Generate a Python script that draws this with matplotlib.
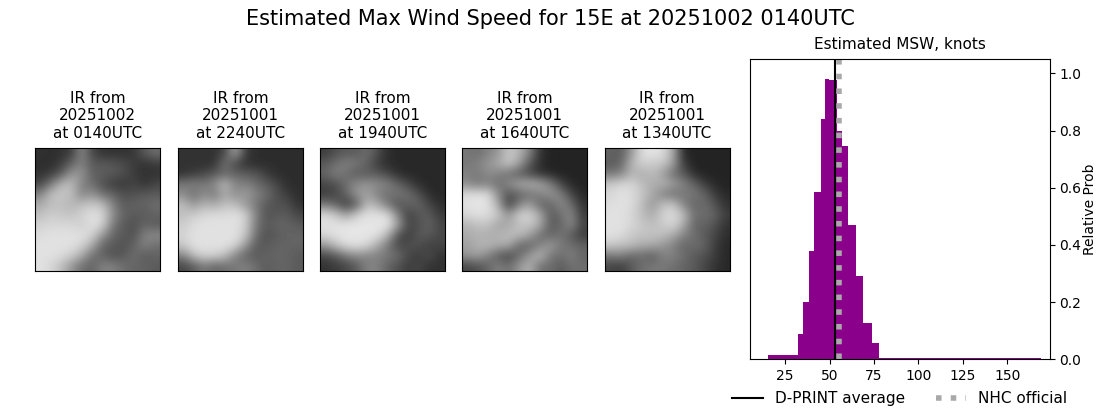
import numpy as np
import matplotlib
matplotlib.use("Agg")
import matplotlib.pyplot as plt

# gray levels on a coarse grid
ir_0140 = [
    [50, 45, 50, 60, 140, 70, 50, 50, 50, 55, 90, 110],
    [45, 45, 60, 100, 130, 90, 90, 85, 75, 60, 50, 60],
    [50, 60, 90, 150, 150, 95, 95, 90, 80, 60, 50, 50],
    [70, 120, 180, 190, 130, 110, 80, 60, 55, 70, 50, 70],
    [130, 190, 200, 190, 130, 150, 110, 100, 80, 80, 90, 90],
    [170, 190, 190, 180, 190, 200, 190, 130, 90, 100, 100, 110],
    [190, 205, 200, 195, 210, 225, 215, 140, 100, 90, 90, 100],
    [210, 215, 215, 215, 205, 225, 210, 120, 90, 80, 100, 90],
    [220, 225, 225, 225, 225, 210, 150, 100, 90, 80, 130, 140],
    [225, 225, 225, 225, 210, 170, 100, 90, 80, 100, 130, 110],
    [225, 225, 220, 205, 170, 110, 100, 80, 90, 110, 90, 100],
    [225, 215, 190, 150, 110, 100, 130, 130, 110, 100, 100, 90],
]
ir_2240 = [
    [50, 50, 50, 50, 70, 170, 60, 45, 45, 45, 45, 45],
    [50, 50, 50, 50, 120, 70, 50, 45, 45, 45, 45, 45],
    [50, 60, 70, 90, 100, 100, 90, 85, 60, 45, 45, 45],
    [120, 130, 120, 140, 190, 130, 130, 110, 90, 70, 45, 45],
    [140, 110, 140, 120, 170, 140, 160, 130, 110, 80, 60, 45],
    [190, 150, 180, 170, 190, 190, 150, 120, 90, 80, 80, 50],
    [190, 205, 215, 220, 220, 225, 210, 130, 80, 90, 90, 70],
    [205, 220, 225, 225, 225, 225, 205, 120, 90, 100, 100, 90],
    [210, 225, 225, 225, 225, 225, 200, 110, 80, 90, 100, 100],
    [200, 225, 225, 225, 225, 215, 150, 90, 90, 100, 100, 100],
    [130, 190, 210, 210, 190, 130, 100, 90, 100, 100, 100, 90],
    [70, 90, 120, 100, 110, 120, 130, 110, 90, 100, 100, 90],
]
ir_1940 = [
    [60, 80, 90, 90, 110, 80, 45, 40, 40, 40, 40, 40],
    [90, 110, 130, 120, 100, 60, 45, 40, 40, 40, 40, 40],
    [100, 130, 110, 90, 90, 90, 70, 45, 40, 40, 40, 40],
    [70, 80, 110, 140, 150, 140, 130, 100, 70, 45, 40, 40],
    [60, 70, 100, 150, 160, 130, 110, 120, 110, 80, 45, 40],
    [120, 100, 60, 90, 190, 170, 120, 80, 100, 100, 70, 45],
    [220, 200, 160, 205, 225, 225, 220, 130, 60, 90, 90, 60],
    [225, 225, 230, 230, 230, 230, 230, 160, 70, 80, 100, 70],
    [215, 225, 230, 230, 230, 225, 180, 80, 60, 90, 90, 70],
    [150, 190, 220, 225, 215, 170, 120, 70, 80, 80, 60, 70],
    [70, 90, 120, 140, 130, 130, 120, 110, 70, 60, 80, 50],
    [50, 60, 70, 90, 130, 130, 100, 80, 60, 70, 50, 50],
]
ir_1640 = [
    [120, 110, 130, 150, 200, 180, 130, 50, 35, 35, 35, 35],
    [120, 130, 150, 170, 200, 160, 90, 45, 35, 35, 35, 35],
    [130, 120, 140, 130, 110, 90, 70, 50, 40, 35, 35, 35],
    [140, 120, 130, 110, 140, 170, 180, 170, 130, 70, 40, 35],
    [220, 225, 220, 140, 80, 100, 110, 130, 150, 130, 70, 40],
    [225, 230, 225, 170, 60, 130, 160, 100, 100, 140, 110, 50],
    [215, 225, 220, 200, 150, 210, 210, 170, 90, 110, 140, 60],
    [180, 190, 195, 160, 170, 190, 200, 170, 90, 100, 140, 70],
    [170, 180, 170, 180, 190, 190, 160, 110, 100, 120, 90, 60],
    [160, 175, 185, 170, 170, 100, 100, 130, 160, 120, 110, 100],
    [150, 160, 130, 90, 70, 110, 150, 190, 120, 110, 130, 100],
    [70, 80, 100, 130, 110, 150, 180, 110, 110, 90, 110, 110],
]
ir_1340 = [
    [100, 90, 150, 220, 230, 220, 170, 40, 35, 35, 35, 35],
    [90, 100, 180, 210, 200, 200, 160, 60, 35, 35, 35, 35],
    [120, 130, 180, 170, 190, 160, 110, 90, 45, 35, 35, 35],
    [200, 215, 215, 190, 170, 180, 160, 130, 100, 60, 40, 35],
    [215, 225, 220, 200, 170, 130, 110, 120, 120, 100, 60, 40],
    [220, 225, 220, 190, 150, 190, 200, 130, 100, 110, 80, 50],
    [225, 225, 215, 190, 170, 210, 220, 190, 110, 110, 100, 60],
    [225, 225, 215, 200, 190, 200, 215, 170, 100, 100, 80, 50],
    [225, 220, 200, 195, 195, 190, 170, 130, 110, 90, 70, 45],
    [200, 190, 190, 170, 170, 150, 130, 100, 110, 100, 60, 40],
    [120, 130, 100, 110, 90, 130, 130, 110, 90, 80, 60, 40],
    [70, 60, 90, 110, 120, 120, 110, 100, 90, 70, 50, 40],
]
ir_images = [ir_0140, ir_2240, ir_1940, ir_1640, ir_1340]
ir_dates = ["20251002", "20251001", "20251001", "20251001", "20251001"]
ir_times = ["0140UTC", "2240UTC", "1940UTC", "1640UTC", "1340UTC"]

bin_edges = [15.4, 32.3, 35.1, 38.5, 41.3, 45.3, 47.5, 49.8, 54.3, 57.1,
             60.5, 65.0, 68.9, 74.0, 77.9, 169.0]
bin_probs = [0.015, 0.089, 0.2, 0.379, 0.585, 0.84, 0.98, 0.977, 0.798, 0.746,
             0.47, 0.291, 0.127, 0.057, 0.006]
dprint_avg = 53
nhc_official = 55.3

W, H = 1100, 409
fig = plt.figure(figsize=(W / 100, H / 100), dpi=100)
fig.suptitle("Estimated Max Wind Speed for 15E at 20251002 0140UTC", fontsize=15, y=0.977)

img_left = [35, 178, 320, 462, 604.6]
for left, img, d, t in zip(img_left, ir_images, ir_dates, ir_times):
    ax = fig.add_axes([left / W, 1 - 271 / H, 125 / W, 123 / H])
    ax.imshow(img, cmap="gray", vmin=0, vmax=255, aspect="auto", interpolation="bicubic")
    ax.set_xticks([])
    ax.set_yticks([])
    ax.set_title(f"IR from\n{d}\nat {t}", fontsize=11, pad=7.5)

ax = fig.add_axes([749.9 / W, 1 - 359.4 / H, 300 / W, 300.4 / H])
ax.bar(bin_edges[:-1], bin_probs, width=np.diff(bin_edges), align="edge", color="darkmagenta")
ax.axvline(dprint_avg, color="k", lw=1.5, label="D-PRINT average")
ax.axvline(nhc_official, color="darkgray", ls=":", lw=4, label="NHC official")
ax.set_xlim(5.2, 174)
ax.set_ylim(0, 1.05)
ax.set_xticks([25, 50, 75, 100, 125, 150])
ax.yaxis.tick_right()
ax.yaxis.set_label_position("right")
ax.set_ylabel("Relative Prob", labelpad=1)
ax.set_title("Estimated MSW, knots", fontsize=11, pad=7.5)
ax.legend(loc="upper center", bbox_to_anchor=(0.5, -0.06), ncol=2, frameon=False, fontsize=11)

fig.savefig("out.png", dpi=100)
